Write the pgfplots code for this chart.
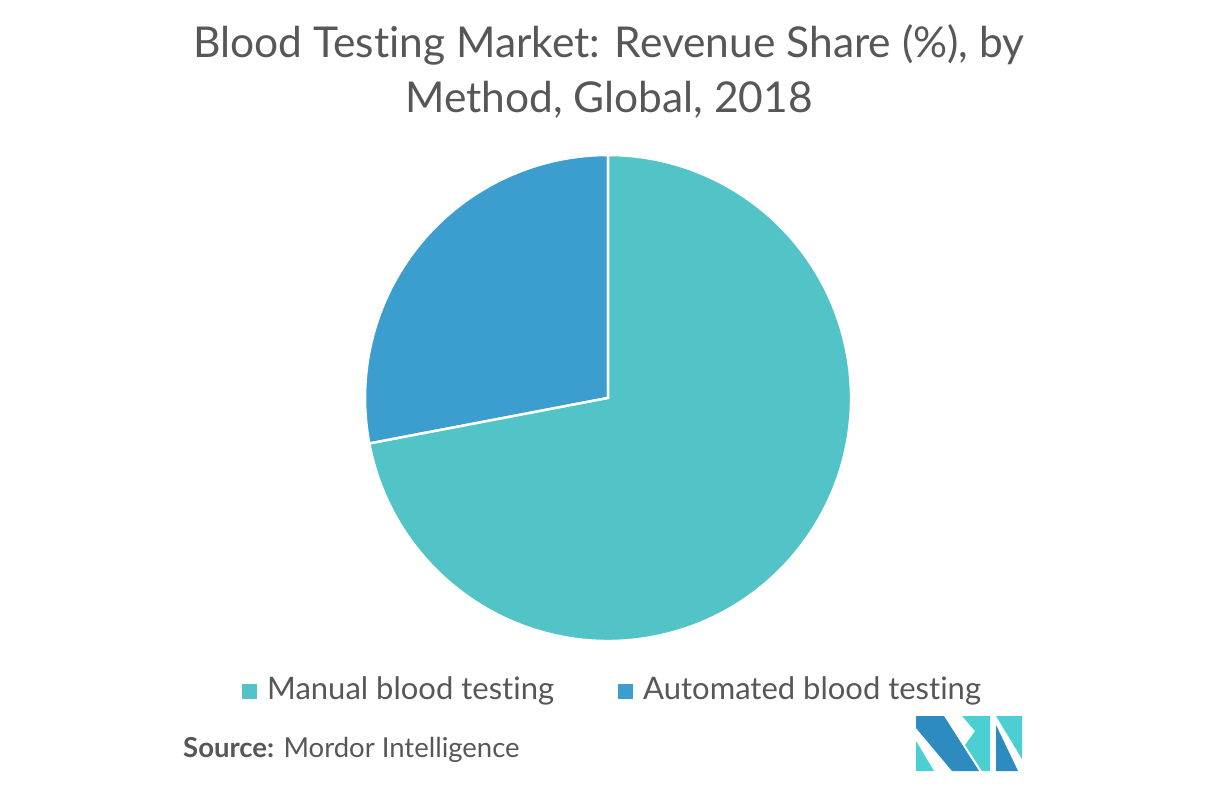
\documentclass[border=0pt]{standalone}
\usepackage{pgfplots}
\pgfplotsset{compat=1.18}
\usepackage{pgfplotstable}
\usepackage{fontspec}
\setmainfont{Lato}[Ligatures={NoCommon}]
\definecolor{manualc}{HTML}{52C4C7}
\definecolor{autoc}{HTML}{3C9ECE}
\definecolor{txt}{HTML}{575757}
\definecolor{logoblue}{HTML}{2E8BBF}
\definecolor{logoteal}{HTML}{4BCFD1}
\pgfplotstableread{
label value
Manual 72
Automated 28
}\piedata
\pgfplotstablegetelem{0}{value}\of\piedata \let\vA\pgfplotsretval
\pgfplotstablegetelem{1}{value}\of\piedata \let\vB\pgfplotsretval
\pgfmathsetmacro\aB{90+3.6*\vB}
\pgfmathsetmacro\cx{cos(\aB)}
\pgfmathsetmacro\cy{sin(\aB)}
\begin{document}
\begin{tikzpicture}
\path[use as bounding box] (0pt,0pt) rectangle (1217pt,785pt);
% pie
\begin{axis}[at={(608pt,387pt)},anchor=center,scale only axis,width=486pt,height=486pt,
  xmin=-1,xmax=1,ymin=-1,ymax=1,hide axis,clip=false]
\addplot[draw=none,forget plot] coordinates {(0,0)};
\fill[fill=autoc,draw=white,line width=2.5pt] (axis cs:0,0) -- (axis cs:0,1) arc[start angle=90,end angle=\aB,radius=243pt] -- cycle;
\fill[fill=manualc,draw=white,line width=2.5pt] (axis cs:0,0) -- (axis cs:\cx,\cy) arc[start angle=\aB,end angle=450,radius=243pt] -- cycle;
\end{axis}
\begin{scope}[x=1pt,y=1pt]
% title
\node[anchor=base,text=txt,font=\fontsize{42.5}{50}\selectfont,inner sep=0] at (609,727) {Blood Testing Market: Revenue Share (\%), by};
\node[anchor=base,text=txt,font=\fontsize{42.5}{50}\selectfont,inner sep=0] at (609,672) {Method, Global, 2018};
% legend
\fill[manualc] (242,86) rectangle (257,101);
\node[anchor=base west,text=txt,font=\fontsize{31}{36}\selectfont,inner sep=0] at (267,86) {Manual blood testing};
\fill[autoc] (618,86) rectangle (633,101);
\node[anchor=base west,text=txt,font=\fontsize{31}{36}\selectfont,inner sep=0] at (643,86) {Automated blood testing};
% source
\node[anchor=base west,text=txt,font=\fontsize{27.5}{32}\selectfont,inner sep=0] at (183,28) {\textbf{Source:} Mordor Intelligence};
% logo
\fill[logoteal] (916,44) -- (916,14) -- (934,14) -- cycle;
\fill[logoblue] (916,69) -- (944,69) -- (979,14) -- (952,14) -- (916,57) -- cycle;
\fill[logoteal] (962,69) -- (990,69) -- (990,14) -- (982,14) -- (965,40) -- (975,54) -- cycle;
\fill[logoteal] (996,69) -- (1022,69) -- (1022,26) -- cycle;
\fill[logoblue] (996,60) -- (1018,14) -- (996,14) -- cycle;
\end{scope}
\end{tikzpicture}
\end{document}
